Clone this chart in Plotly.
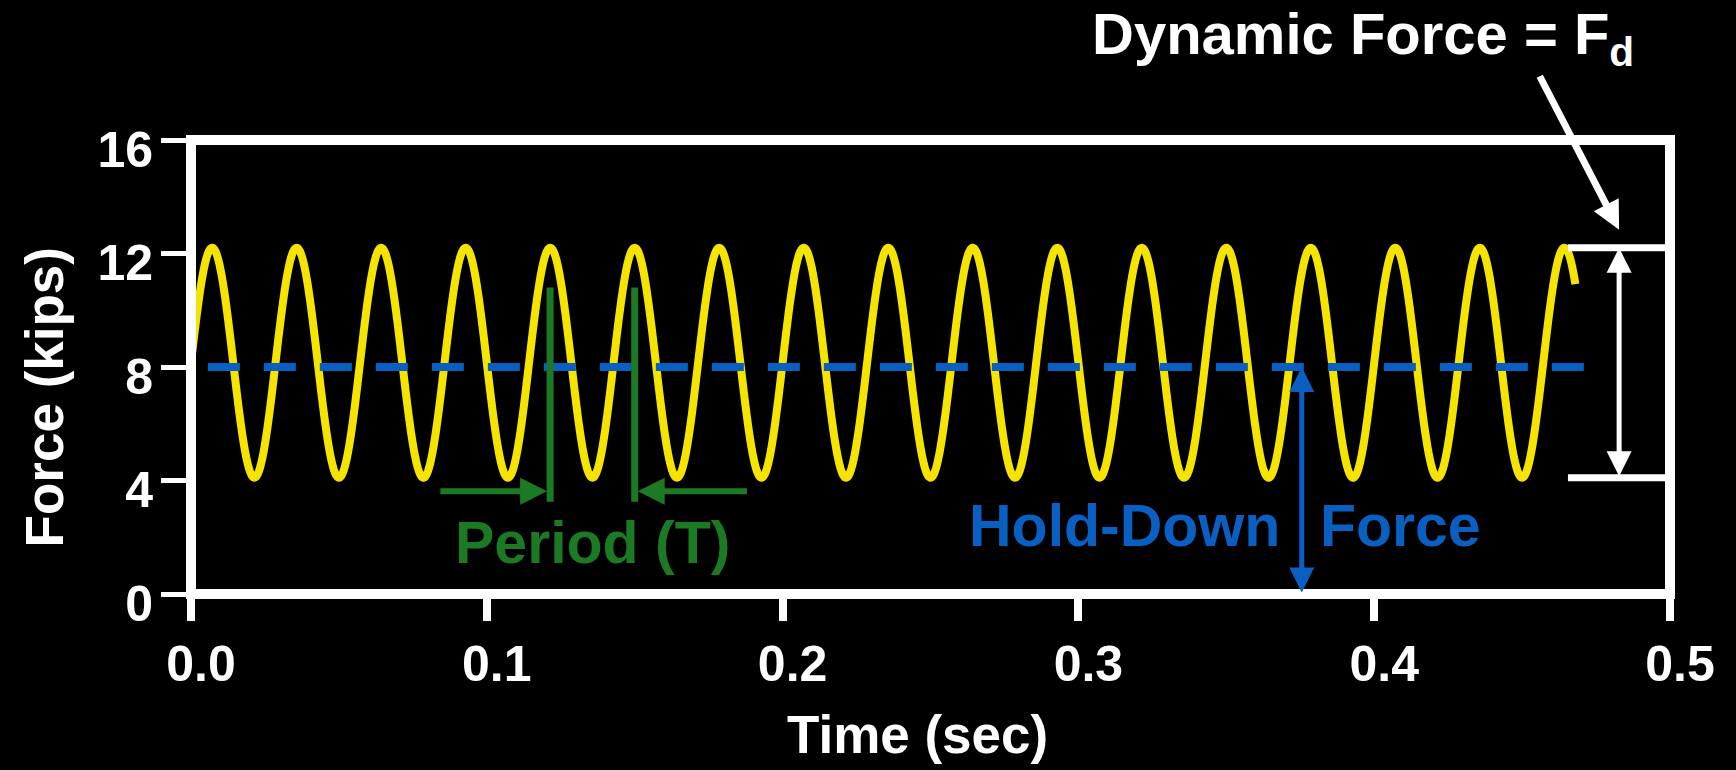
import numpy as np
import plotly.graph_objects as go

# ---- values ----
x_ticks = [0.0, 0.1, 0.2, 0.3, 0.4, 0.5]
x_tick_labels = ["0.0", "0.1", "0.2", "0.3", "0.4", "0.5"]
y_ticks = [0, 4, 8, 12, 16]
y_tick_labels = ["0", "4", "8", "12", "16"]

mean_force_kips = 8.15         # centre of the yellow oscillation
dynamic_amplitude_kips = 4.05  # half of peak-to-trough
frequency_hz = 35.0            # ~17 cycles in 0.47 s
signal_end_sec = 0.468
hold_down_force_kips = 8.0     # blue dashed level
hold_down_line_x = [0.0057, 0.4727]

period_marker_x = [0.1214, 0.15]      # green vertical lines at two peaks
period_marker_y = [3.25, 10.8]
period_arrow_y = 3.62
period_arrow_tails = [0.0838, 0.1885]

fd_top_kips = mean_force_kips + dynamic_amplitude_kips
fd_bottom_kips = mean_force_kips - dynamic_amplitude_kips
fd_line_x = [0.4655, 0.5]
fd_arrow_x = 0.4828
fd_pointer_tail = (0.4557, 18.3)
fd_pointer_head = (0.4828, 12.84)

hold_arrow_x = 0.3755

# ---- colours ----
YELLOW = "#f5e400"
BLUE = "#0a5fc2"
GREEN = "#1c7a24"
WHITE = "#ffffff"
FONT = "Liberation Sans, Arial, sans-serif"

t = np.linspace(0.0, signal_end_sec, 3000)
force = mean_force_kips + dynamic_amplitude_kips * np.sin(2 * np.pi * frequency_hz * t)

fig = go.Figure()

fig.add_trace(go.Scatter(x=t, y=force, mode="lines",
                         line=dict(color=YELLOW, width=8, simplify=False), hoverinfo="skip"))
fig.add_trace(go.Scatter(x=hold_down_line_x, y=[hold_down_force_kips] * 2, mode="lines",
                         line=dict(color=BLUE, width=8, dash="32px,24px"), hoverinfo="skip"))
for px in period_marker_x:
    fig.add_trace(go.Scatter(x=[px, px], y=period_marker_y, mode="lines",
                             line=dict(color=GREEN, width=7), hoverinfo="skip"))
for fy in [fd_top_kips, fd_bottom_kips]:
    fig.add_trace(go.Scatter(x=fd_line_x, y=[fy, fy], mode="lines",
                             line=dict(color=WHITE, width=7), hoverinfo="skip", cliponaxis=False))

annotations = []
# green period arrows
for head_x, tail_x in zip(period_marker_x, period_arrow_tails):
    annotations.append(dict(x=head_x, y=period_arrow_y, ax=tail_x, ay=period_arrow_y,
                            xref="x", yref="y", axref="x", ayref="y", text="", showarrow=True,
                            arrowhead=2, arrowsize=0.9, arrowwidth=6, arrowcolor=GREEN, standoff=3))
# blue hold-down double arrow
annotations.append(dict(x=hold_arrow_x, y=hold_down_force_kips, ax=hold_arrow_x, ay=0,
                        xref="x", yref="y", axref="x", ayref="y", text="", showarrow=True,
                        arrowside="end+start", arrowhead=2, startarrowhead=2,
                        arrowsize=1.0, startarrowsize=1.0, arrowwidth=5, arrowcolor=BLUE))
# white dynamic force double arrow
annotations.append(dict(x=fd_arrow_x, y=fd_top_kips, ax=fd_arrow_x, ay=fd_bottom_kips,
                        xref="x", yref="y", axref="x", ayref="y", text="", showarrow=True,
                        arrowside="end+start", arrowhead=2, startarrowhead=2,
                        arrowsize=1.0, startarrowsize=1.0, arrowwidth=5, arrowcolor=WHITE))
# white pointer from title
annotations.append(dict(x=fd_pointer_head[0], y=fd_pointer_head[1], ax=fd_pointer_tail[0], ay=fd_pointer_tail[1],
                        xref="x", yref="y", axref="x", ayref="y", text="", showarrow=True,
                        arrowhead=2, arrowsize=0.8, arrowwidth=7, arrowcolor=WHITE))
# texts
annotations.append(dict(x=0.1359, y=1.8, xref="x", yref="y", text="Period (T)", showarrow=False,
                        xanchor="center", yanchor="middle",
                        font=dict(family=FONT, size=59, color=GREEN, weight="bold")))
annotations.append(dict(x=0.3689, y=2.4, xref="x", yref="y", text="Hold-Down", showarrow=False,
                        xanchor="right", yanchor="middle",
                        font=dict(family=FONT, size=59, color=BLUE, weight="bold")))
annotations.append(dict(x=0.381, y=2.4, xref="x", yref="y", text="Force", showarrow=False,
                        xanchor="left", yanchor="middle",
                        font=dict(family=FONT, size=59, color=BLUE, weight="bold")))
annotations.append(dict(x=0.6078, y=1.224, xref="paper", yref="paper", text="Dynamic Force = F<sub>d</sub>",
                        showarrow=False, xanchor="left", yanchor="middle",
                        font=dict(family=FONT, size=58, color=WHITE, weight="bold")))
# axis titles
annotations.append(dict(x=0.4909, y=-0.3084, xref="paper", yref="paper", text="Time (sec)",
                        showarrow=False, xanchor="center", yanchor="middle",
                        font=dict(family=FONT, size=53, color=WHITE, weight="bold")))
annotations.append(dict(x=-0.0994, y=0.433, xref="paper", yref="paper", text="Force (kips)",
                        showarrow=False, xanchor="center", yanchor="middle", textangle=-90,
                        font=dict(family=FONT, size=53, color=WHITE, weight="bold")))

fig.update_layout(
    width=1736, height=770, autosize=False,
    margin=dict(l=191, r=66, t=140, b=176),
    paper_bgcolor="#000000", plot_bgcolor="#000000",
    showlegend=False,
    annotations=annotations,
    shapes=[dict(type="rect", xref="paper", yref="paper", x0=0, x1=1, y0=0, y1=1,
                 line=dict(color=WHITE, width=10), layer="above")],
    xaxis=dict(range=[0, 0.5], tickvals=x_ticks, ticktext=x_tick_labels,
               showgrid=False, zeroline=False, showline=False,
               ticks="outside", ticklen=26, tickwidth=8, tickcolor=WHITE, ticklabelshift=10,
               tickfont=dict(family=FONT, size=50, color=WHITE, weight="bold")),
    yaxis=dict(range=[0, 16], tickvals=y_ticks, ticktext=y_tick_labels,
               showgrid=False, zeroline=False, showline=False,
               ticks="outside", ticklen=29, tickwidth=5, tickcolor=WHITE,
               ticklabelshift=9, ticklabelstandoff=-2,
               tickfont=dict(family=FONT, size=50, color=WHITE, weight="bold")),
)

fig.write_html("out.html", config={"displayModeBar": False},
               post_script="document.body.style.margin='0';document.body.style.background='#000';")
